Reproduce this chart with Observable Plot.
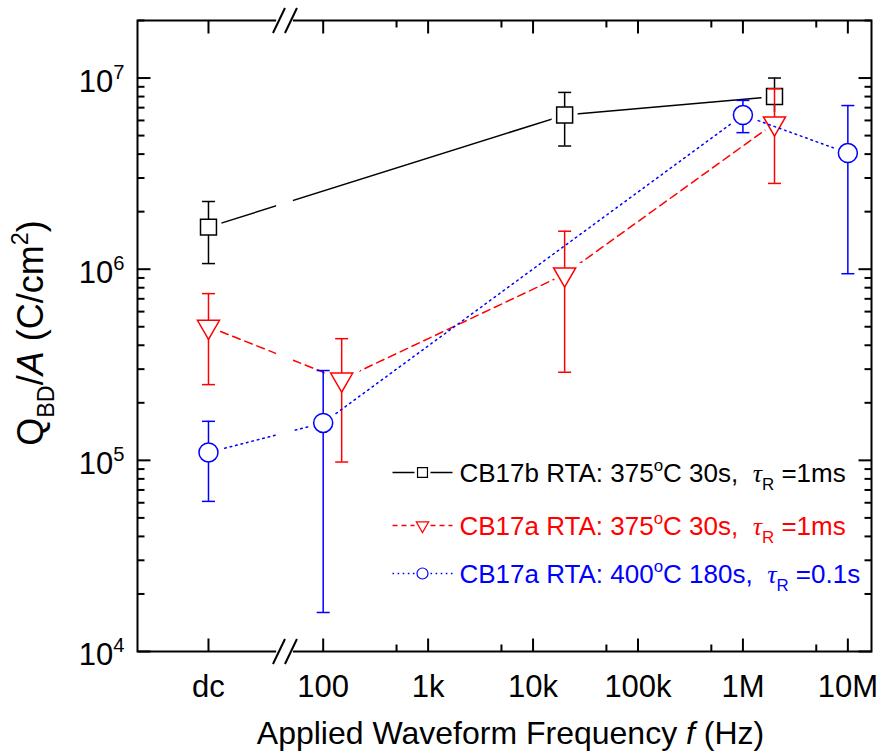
<!DOCTYPE html>
<html><head><meta charset="utf-8">
<script src="https://cdn.jsdelivr.net/npm/d3@7"></script>
<script src="https://cdn.jsdelivr.net/npm/@observablehq/plot@0.6"></script>
<style>body{margin:0;background:#fff}</style>
</head><body><div id="chart"></div>
<script>
// ---- data ----
const DC = 8.07; // stand-in frequency that places the "dc" column on the log axis
const tickFreqs = [DC, 100, 1e3, 1e4, 1e5, 1e6, 1e7];
const tickLabels = ["dc", "100", "1k", "10k", "100k", "1M", "10M"];
const minorFreqs = [500, 5e3, 5e4, 5e5, 5e6];
const yMajor = [1e4, 1e5, 1e6, 1e7];
const yTickLabels = ["10^{4}", "10^{5}", "10^{6}", "10^{7}"];
const xDomain = [1.70, 1.68e7];
const yDomain = [1e4, 2.0e7];
const breakBand = [36, 52];
const breakMarks = [37.9, 49.3];

const seriesNames = [
  "CB17b RTA: 375^{o}C 30s,  *τ*_{R} =1ms",
  "CB17a RTA: 375^{o}C 30s,  *τ*_{R} =1ms",
  "CB17a RTA: 400^{o}C 180s,  *τ*_{R} =0.1s"
];
const seriesColors = ["#000000", "#ff0000", "#0000ff"];

const fB = [DC, 2e4, 2e6];
const qB = [1.66e6, 6.4e6, 8.0e6];
const qBlo = [1.07e6, 4.41e6, 6.4e6];
const qBhi = [2.26e6, 8.41e6, 1.0e7];

const fR = [DC, 150, 2e4, 2e6];
const qR = [5.0e5, 2.65e5, 9.4e5, 5.8e6];
const qRlo = [2.49e5, 9.8e4, 2.89e5, 2.81e6];
const qRhi = [7.45e5, 4.33e5, 1.58e6, 8.79e6];

const fBl = [DC, 100, 1e6, 1e7];
const qBl = [1.10e5, 1.57e5, 6.4e6, 4.05e6];
const qBllo = [6.1e4, 1.6e4, 5.18e6, 9.47e5];
const qBlhi = [1.6e5, 2.95e5, 7.64e6, 7.18e6];

// ---- helpers ----
const table = (f, q, lo, hi) => f.map((v, i) => ({f: v, q: q[i], lo: lo[i], hi: hi[i]}));
const seriesData = [table(fB, qB, qBlo, qBhi), table(fR, qR, qRlo, qRhi), table(fBl, qBl, qBllo, qBlhi)];
const dashes = [null, "8,5", "1.6,4"];
const legendDashes = [null, "5,4", "1.6,3.5"];

const seg = (x0, y0, x1, y1) => ({draw(c) { c.moveTo(x0, y0); c.lineTo(x1, y1); }});
const capSym = seg(-6.5, 0, 6.5, 0);
const downTri = {draw(c, size) {
  const y = -Math.sqrt(size / (3 * Math.sqrt(3)));
  c.moveTo(0, -2 * y); c.lineTo(Math.sqrt(3) * y, y); c.lineTo(-Math.sqrt(3) * y, y); c.closePath();
}};
const symbols = ["square", downTri, "circle"];
const radii = [9, 8.2, 9.5];
const legendRadii = [5.6, 4.6, 5.5];
const legendLine = {draw(c) { c.moveTo(-30, 0); c.lineTo(-8, 0); c.moveTo(8, 0); c.lineTo(30, 0); }};

const yMinor = [];
for (let e = 4; e <= 7; e++) for (let k = 2; k <= 9; k++) { const v = k * 10 ** e; if (v <= yDomain[1]) yMinor.push(v); }

const marks = [];
seriesData.forEach((d, s) => {
  const col = seriesColors[s];
  marks.push(Plot.line(d, {x: "f", y: "q", stroke: col, strokeWidth: 1.5, strokeDasharray: dashes[s]}));
  marks.push(Plot.dot(d, {x: "f", y: "q", symbol: symbols[s], r: radii[s], fill: "white", stroke: "white", strokeWidth: 10}));
  marks.push(Plot.ruleX(d, {x: "f", y1: "lo", y2: "hi", stroke: col, strokeWidth: 1.5}));
  marks.push(Plot.dot(d, {x: "f", y: "lo", symbol: capSym, fill: "none", stroke: col, strokeWidth: 1.5}));
  marks.push(Plot.dot(d, {x: "f", y: "hi", symbol: capSym, fill: "none", stroke: col, strokeWidth: 1.5}));
  marks.push(Plot.dot(d, {x: "f", y: "q", symbol: symbols[s], r: radii[s], fill: "white", stroke: col, strokeWidth: 1.5}));
});
marks.push(Plot.frame({stroke: "black", strokeWidth: 2}));
marks.push(Plot.rect([0], {x1: () => breakBand[0], x2: () => breakBand[1], y1: () => yDomain[0], y2: () => yDomain[1], fill: "white", insetTop: -3, insetBottom: -3}));
// axis-break slashes
for (const yb of [yDomain[0], yDomain[1]])
  marks.push(Plot.dot(breakMarks, {x: d => d, y: () => yb, symbol: seg(-6, 12.5, 6, -12.5), fill: "none", stroke: "black", strokeWidth: 2}));
// ticks (inward)
for (const [vals, L] of [[tickFreqs, 13], [minorFreqs, 7]]) {
  marks.push(Plot.dot(vals, {x: d => d, y: () => yDomain[0], symbol: seg(0, 0, 0, -L), fill: "none", stroke: "black", strokeWidth: 2}));
  marks.push(Plot.dot(vals, {x: d => d, y: () => yDomain[1], symbol: seg(0, 0, 0, L), fill: "none", stroke: "black", strokeWidth: 2}));
}
for (const [vals, L] of [[yMajor, 13], [yMinor, 7]]) {
  marks.push(Plot.dot(vals, {y: d => d, x: () => xDomain[0], symbol: seg(0, 0, L, 0), fill: "none", stroke: "black", strokeWidth: 2}));
  marks.push(Plot.dot(vals, {y: d => d, x: () => xDomain[1], symbol: seg(0, 0, -L, 0), fill: "none", stroke: "black", strokeWidth: 2}));
}
// tick labels
marks.push(Plot.text(tickFreqs, {x: d => d, y: () => yDomain[0], text: (d, i) => tickLabels[i], dy: 36, fontSize: 31, fill: "black"}));
marks.push(Plot.text(yMajor, {y: d => d, x: () => xDomain[0], text: (d, i) => yTickLabels[i], dx: -13, dy: 4, textAnchor: "end", fontSize: 31, fill: "black"}));
// titles
marks.push(Plot.text(["Applied Waveform Frequency *f* (Hz)"], {frameAnchor: "bottom", text: d => d, lineAnchor: "middle", textAnchor: "middle", dy: 82, dx: 6, fontSize: 32, fill: "black"}));
marks.push(Plot.text(["Q_{BD}/*A* (C/cm^{2})"], {frameAnchor: "left", text: d => d, lineAnchor: "middle", textAnchor: "middle", dx: -106, dy: -3, rotate: -90, fontSize: 36, fill: "black"}));
// legend
const legendRows = [452, 505, 553];
seriesNames.forEach((name, s) => {
  const col = seriesColors[s];
  marks.push(Plot.dot([0], {frameAnchor: "top-left", dx: 285, dy: legendRows[s], symbol: legendLine, fill: "none", stroke: col, strokeWidth: 1.5, strokeDasharray: legendDashes[s]}));
  marks.push(Plot.dot([0], {frameAnchor: "top-left", dx: 285, dy: legendRows[s], symbol: symbols[s], r: legendRadii[s], fill: "white", stroke: col, strokeWidth: 1.2}));
  marks.push(Plot.text([name], {frameAnchor: "top-left", dx: 322, dy: legendRows[s] + 1, text: d => d, textAnchor: "start", lineAnchor: "middle", fontSize: 26, fill: col}));
});

const chart = Plot.plot({
  width: 882, height: 755,
  marginLeft: 137, marginRight: 11, marginTop: 20, marginBottom: 104,
  x: {type: "log", domain: xDomain, axis: null},
  y: {type: "log", domain: yDomain, axis: null},
  style: {fontFamily: "'Liberation Sans', Arial, sans-serif", background: "white", overflow: "visible"},
  marks
});
document.getElementById("chart").appendChild(chart);

// rich text: ^{sup}, _{sub}, *italic*
const NS = "http://www.w3.org/2000/svg";
chart.querySelectorAll("text").forEach(el => {
  const s = el.textContent;
  if (!/[\^_*]/.test(s)) return;
  const fs = parseFloat(getComputedStyle(el).fontSize) || 16;
  el.textContent = "";
  el.style.whiteSpace = "pre";
  let shift = 0;
  s.split(/(\^\{[^}]*\}|_\{[^}]*\}|\*[^*]*\*)/).filter(p => p).forEach(p => {
    const t = document.createElementNS(NS, "tspan");
    let target = 0, txt = p;
    if (p.startsWith("^{")) { target = -0.42 * fs; txt = p.slice(2, -1); t.setAttribute("font-size", 0.65 * fs); }
    else if (p.startsWith("_{")) { target = 0.3 * fs; txt = p.slice(2, -1); t.setAttribute("font-size", 0.65 * fs); }
    else if (p.startsWith("*")) {
      txt = p.slice(1, -1); t.setAttribute("font-style", "italic");
      if (txt === "τ") t.setAttribute("font-family", "'Liberation Serif', 'Times New Roman', serif");
    }
    if (target - shift !== 0) t.setAttribute("dy", target - shift);
    shift = target;
    t.textContent = txt;
    el.appendChild(t);
  });
});
</script></body></html>
